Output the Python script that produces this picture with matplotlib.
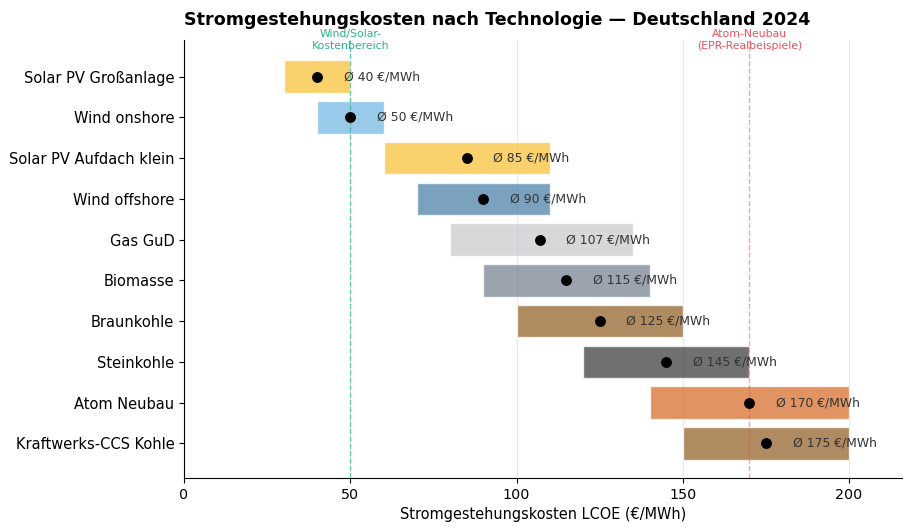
import matplotlib
matplotlib.use("Agg")
import matplotlib.pyplot as plt

technologies = ["Solar PV Großanlage", "Wind onshore", "Solar PV Aufdach klein",
                "Wind offshore", "Gas GuD", "Biomasse", "Braunkohle",
                "Steinkohle", "Atom Neubau", "Kraftwerks-CCS Kohle"]
lcoe_min = [30, 40, 60, 70, 80, 90, 100, 120, 140, 150]
lcoe_max = [50, 60, 110, 110, 135, 140, 150, 170, 200, 200]
lcoe_avg = [40, 50, 85, 90, 107, 115, 125, 145, 170, 175]
colors = ["#F7C43E", "#78B9E3", "#F7C43E", "#4E83AA", "#CBCBD0",
          "#788593", "#96632B", "#404040", "#D8702E", "#96632B"]

fig = plt.figure(figsize=(9.05, 5.28), dpi=100)
ax = fig.add_axes([184/905, 1-478/528, 0.997-184/905, (478-40)/528])

ypos = list(range(len(technologies)))
widths = [hi - lo for lo, hi in zip(lcoe_min, lcoe_max)]
ax.barh(ypos, widths, left=lcoe_min, height=0.8, color=colors, alpha=0.75,
        edgecolor="white", linewidth=1, zorder=2)
ax.plot(lcoe_avg, ypos, "o", color="black", markersize=6.8, zorder=4)
for y, v in zip(ypos, lcoe_avg):
    ax.text(v + 8, y, f"Ø {v} €/MWh", va="center", ha="left", fontsize=8.9,
            color="#333333", zorder=5)

ax.axvline(50, color="#2DBE8C", linestyle="--", linewidth=1, alpha=0.7, zorder=3)
ax.axvline(170, color="#E8505B", linestyle="--", linewidth=1, alpha=0.5, zorder=3)
ax.text(50, -0.62, "Wind/Solar-\nKostenbereich", ha="center", va="bottom",
        fontsize=7.8, color="#2DB38A", linespacing=1.3)
ax.text(170, -0.62, "Atom-Neubau\n(EPR-Realbeispiele)", ha="center", va="bottom",
        fontsize=7.8, color="#E8505B", linespacing=1.3)

ax.set_yticks(ypos)
ax.set_yticklabels(technologies, fontsize=10.5)
ax.set_ylim(9.85, -0.9)
ax.set_xlim(0, 216)
ax.set_xticks([0, 50, 100, 150, 200])
ax.tick_params(axis="x", labelsize=10.3)
ax.set_xlabel("Stromgestehungskosten LCOE (€/MWh)", fontsize=10.45)
ax.set_title("Stromgestehungskosten nach Technologie — Deutschland 2024",
             fontsize=12.6, fontweight="bold", pad=11, loc="left")
ax.grid(axis="x", color="#DDDDDD", linewidth=0.8, alpha=0.7, zorder=0)
ax.set_axisbelow(True)
ax.spines["top"].set_visible(False)
ax.spines["right"].set_visible(False)

fig.savefig("out.png", dpi=100)
